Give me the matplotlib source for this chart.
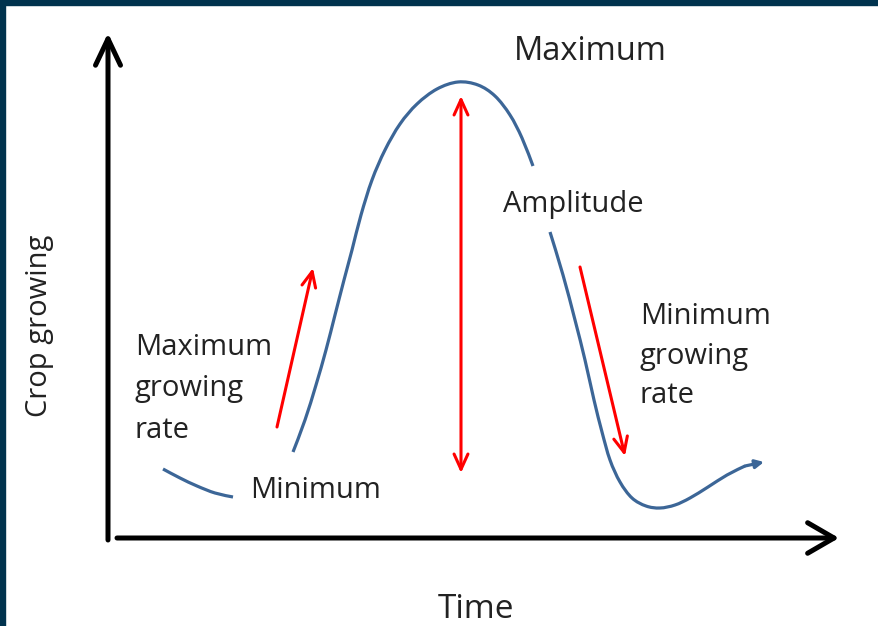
import matplotlib
matplotlib.use("Agg")
import matplotlib.pyplot as plt
from matplotlib.patches import Rectangle, FancyArrowPatch, ArrowStyle, PathPatch
from matplotlib.path import Path
import numpy as np

# ---- data (diagram coordinates, y grows downward) ----
tail_x = [163, 180, 197, 215, 233]
tail_y = [469, 478, 486, 493, 497]

rise_x = [293, 305, 316, 326, 335, 344, 352, 361, 372, 385, 400, 417, 437, 458, 478, 495, 510, 522, 533]
rise_y = [452, 420, 385, 350, 315, 280, 250, 215, 180, 150, 124, 104, 89, 82, 85, 96, 115, 138, 166]

fall_x = [550, 563, 575, 585, 594, 602, 610, 620, 632, 646, 660, 675, 690, 708, 727, 745, 764]
fall_y = [232, 275, 320, 360, 400, 432, 460, 482, 498, 506, 508, 505, 498, 487, 475, 466, 462]

# axis arrows: (start, end)
y_axis = ((108, 540), (108, 33))
x_axis = ((117, 538), (839, 538))

# red arrows: (start, end)
rise_arrow = ((277, 427), (313, 268))
amp_arrow = ((461, 96), (461, 473))
fall_arrow = ((580, 267), (625, 456))

label_top = "Maximum"
label_amp = "Amplitude"
label_min = "Minimum"
label_rise = ["Maximum", "growing", "rate"]
label_fall = ["Minimum", "growing", "rate"]
xlabel = "Time"
ylabel = "Crop growing"

W, H = 879, 626
fig = plt.figure(figsize=(W / 100, H / 100), dpi=100)
ax = fig.add_axes([0, 0, 1, 1])
ax.set_xlim(0, W)
ax.set_ylim(H, 0)
ax.axis("off")

border = "#00334e"
fig.patches.append(Rectangle((0, 1 - 5 / H), 1, 5 / H, transform=fig.transFigure, color=border, zorder=10))
fig.patches.append(Rectangle((0, 0), 5 / W, 1, transform=fig.transFigure, color=border, zorder=10))

blue = "#3c6697"
red = "#ff0000"
lw_curve = 2.3


def smooth_path(xs, ys):
    """Catmull-Rom through the given points, drawn as cubic Bezier segments."""
    p = np.column_stack([xs, ys]).astype(float)
    verts = [p[0]]
    codes = [Path.MOVETO]
    n = len(p)
    for i in range(n - 1):
        p0 = p[i - 1] if i > 0 else p[i]
        p1 = p[i]
        p2 = p[i + 1]
        p3 = p[i + 2] if i + 2 < n else p[i + 1]
        c1 = p1 + (p2 - p0) / 6.0
        c2 = p2 - (p3 - p1) / 6.0
        verts += [c1, c2, p2]
        codes += [Path.CURVE4] * 3
    return Path(verts, codes)


for xs, ys in ((tail_x, tail_y), (rise_x, rise_y), (fall_x[:-1], fall_y[:-1])):
    ax.add_patch(PathPatch(smooth_path(xs, ys), facecolor="none", edgecolor=blue, lw=lw_curve, capstyle="butt"))

ax.add_patch(FancyArrowPatch((fall_x[-2], fall_y[-2]), (fall_x[-1], fall_y[-1]),
                             arrowstyle=ArrowStyle("-|>", head_length=5, head_width=2.5),
                             color=blue, lw=lw_curve, mutation_scale=1, shrinkA=0, shrinkB=0))


def arrow(p0, p1, style, color, lw, hl, hw):
    ax.add_patch(FancyArrowPatch(p0, p1, arrowstyle=ArrowStyle(style, head_length=hl, head_width=hw),
                                 color=color, lw=lw, mutation_scale=1, shrinkA=0, shrinkB=0,
                                 capstyle="round", joinstyle="round"))


arrow(*y_axis, "->", "black", 3.6, 19, 9)
arrow(*x_axis, "->", "black", 3.6, 19, 11)
arrow(*rise_arrow, "->", red, 2.2, 11, 5)
arrow(*amp_arrow, "<->", red, 2.2, 11, 5)
arrow(*fall_arrow, "->", red, 2.2, 11, 5)

font = "Open Sans"
tc = "#222222"
fs = 21
ax.text(590, 60, label_top, fontsize=23.5, family=font, color=tc, ha="center", va="baseline")
ax.text(503, 212, label_amp, fontsize=fs, family=font, color=tc, ha="left", va="baseline")
ax.text(250, 498, label_min, fontsize=fs, family=font, color=tc, ha="left", va="baseline")
for line, base in zip(label_rise, (355, 396, 438)):
    ax.text(135, base, line, fontsize=fs, family=font, color=tc, ha="left", va="baseline")
for line, base in zip(label_fall, (324, 364, 403)):
    ax.text(640, base, line, fontsize=fs, family=font, color=tc, ha="left", va="baseline")
ax.text(476, 618, xlabel, fontsize=24, family=font, color=tc, ha="center", va="baseline")
ax.text(40, 326, ylabel, fontsize=fs, family=font, color=tc, ha="center", va="center", rotation=90)

fig.savefig("out.png", dpi=100, facecolor="white")
